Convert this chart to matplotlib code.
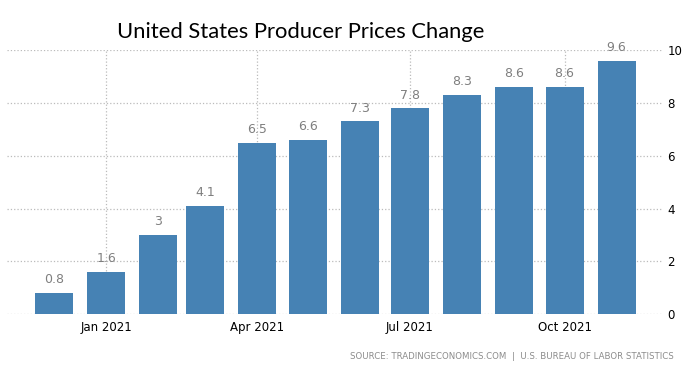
import numpy as np
import matplotlib.pyplot as plt
import matplotlib.dates as mdates
import datetime as dt

# monthly PPI change, Dec 2020 - Nov 2021
months = [dt.date(2020, 12, 1)] + [dt.date(2021, m, 1) for m in range(1, 12)]
values = [0.8, 1.6, 3, 4.1, 6.5, 6.6, 7.3, 7.8, 8.3, 8.6, 8.6, 9.6]
labels = ['0.8', '1.6', '3', '4.1', '6.5', '6.6', '7.3', '7.8', '8.3', '8.6', '8.6', '9.6']
tick_dates = [dt.date(2021, 1, 1), dt.date(2021, 4, 1), dt.date(2021, 7, 1), dt.date(2021, 10, 1)]
tick_labels = ['Jan 2021', 'Apr 2021', 'Jul 2021', 'Oct 2021']

fig = plt.figure(figsize=(6.83, 3.74), dpi=100)
ax = fig.add_axes([0.0102, 0.160, 0.959, 0.706])

ax.bar(months, values, width=22.6, color='#4682b4', zorder=2)
for d, v, t in zip(months, values, labels):
    ax.text(d, v + 0.25, t, ha='center', va='bottom', fontsize=9, color='#7f7f7f', family='DejaVu Sans')

ax.set_xlim(dt.date(2020, 11, 3), dt.date(2021, 11, 28))
ax.set_ylim(0, 10)
ax.set_xticks(tick_dates)
ax.set_xticklabels(tick_labels)
ax.set_yticks([0, 2, 4, 6, 8, 10])
ax.yaxis.tick_right()
ax.tick_params(axis='both', length=0, labelsize=8.5, colors='black')
ax.tick_params(axis='y', pad=4)
ax.tick_params(axis='x', pad=5)

ax.grid(True, linestyle=':', color='#bbbbbb', linewidth=0.9, zorder=0)
for s in ax.spines.values():
    s.set_visible(False)

fig.text(0.171, 0.915, 'United States Producer Prices Change', fontsize=15.8, family='Lato', ha='left', va='center')
fig.text(0.986, 0.046, 'SOURCE: TRADINGECONOMICS.COM  |  U.S. BUREAU OF LABOR STATISTICS',
         fontsize=6.2, color='#8c8c8c', ha='right', va='center')

fig.savefig('out.png', dpi=100)
